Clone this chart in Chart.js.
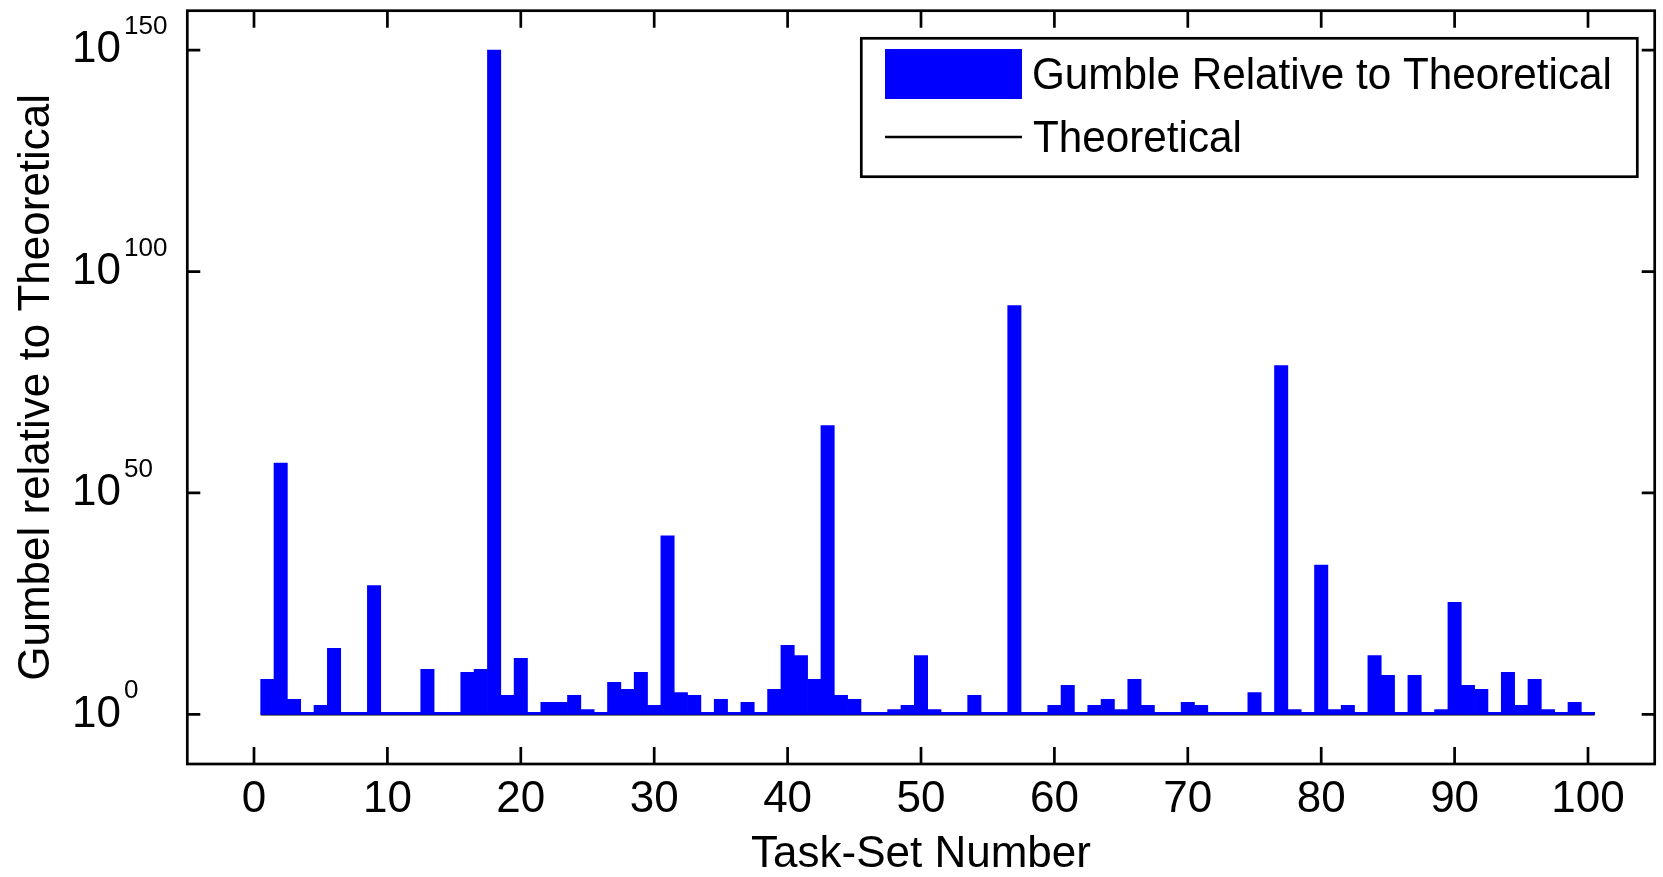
<!DOCTYPE html>
<html>
<head>
<meta charset="utf-8">
<title>Gumbel relative to Theoretical</title>
<script src="https://cdn.jsdelivr.net/npm/chart.js@4.4.1/dist/chart.umd.min.js"></script>
<style>
  html, body { margin: 0; padding: 0; background: #fff; }
  canvas { display: block; }
</style>
</head>
<body>
<canvas id="chart" width="1663" height="877"></canvas>
<script>
// Barras de Gumbel relativo al teórico, por número de task-set (eje log).
var taskNumbers = Array.from({ length: 100 }, function (_, i) { return i + 1; });
var gumbelRelative = [
  8e7, 6e56, 2500, 2.8, 110, 8e14, 2.8, 2.8, 1.3e29, 2.8,
  2.8, 2.8, 1.5e10, 2.8, 2.8, 3e9, 1.5e10, 1e150, 2e4, 4.5e12,
  2.8, 500, 500, 2e4, 13, 2.8, 1.7e7, 4.5e5, 3e9, 110,
  2e40, 9e4, 2e4, 2.8, 2500, 2.8, 500, 2.8, 4.5e5, 4e15,
  2e13, 8e7, 1.6e65, 2e4, 2500, 2.8, 2.8, 13, 110, 2e13,
  13, 2.8, 2.8, 2e4, 2.8, 2.8, 2e92, 2.8, 2.8, 110,
  3.5e6, 2.8, 110, 2500, 13, 8e7, 110, 2.8, 2.8, 500,
  110, 2.8, 2.8, 2.8, 9e4, 2.8, 6e78, 13, 2.8, 5e33,
  13, 110, 2.8, 2e13, 6.5e8, 2.8, 6.5e8, 2.8, 13, 2e25,
  3.5e6, 4.5e5, 2.8, 3e9, 110, 8e7, 13, 2.8, 500, 2.8
];
var barBase = 1;
var theoreticalX = [0.5, 100.5];
var theoreticalY = [1, 1];
var xTickValues = [0, 10, 20, 30, 40, 50, 60, 70, 80, 90, 100];
var yTickValues = [1e0, 1e50, 1e100, 1e150];
var yTickExponents = ['0', '50', '100', '150'];
var xMin = -5, xMax = 105;
var yMin = 6.3e-12, yMax = 8e158;

var FONT = "'Liberation Sans', Arial, sans-serif";
Chart.defaults.font.family = FONT;
Chart.defaults.color = '#000';

// marco estilo MATLAB: caja, ticks hacia adentro, etiquetas 10^n y leyenda
var marco = {
  id: 'marco',
  afterDraw: function (chart) {
    var ctx = chart.ctx, a = chart.chartArea, x = chart.scales.x, y = chart.scales.y;
    ctx.save();
    ctx.strokeStyle = '#000';
    ctx.lineWidth = 2.7;
    ctx.strokeRect(a.left, a.top, a.right - a.left, a.bottom - a.top);
    ctx.beginPath();
    xTickValues.forEach(function (v) {
      var px = x.getPixelForValue(v);
      ctx.moveTo(px, a.bottom); ctx.lineTo(px, a.bottom - 17);
      ctx.moveTo(px, a.top); ctx.lineTo(px, a.top + 17);
    });
    yTickValues.forEach(function (v) {
      var py = y.getPixelForValue(v);
      ctx.moveTo(a.left, py); ctx.lineTo(a.left + 13, py);
      ctx.moveTo(a.right, py); ctx.lineTo(a.right - 13, py);
    });
    ctx.stroke();

    // etiquetas del eje y
    ctx.fillStyle = '#000';
    yTickValues.forEach(function (v, i) {
      var py = y.getPixelForValue(v);
      ctx.font = '44px ' + FONT;
      ctx.textAlign = 'right'; ctx.textBaseline = 'middle';
      ctx.fillText('10', 121, py);
      ctx.font = '26px ' + FONT;
      ctx.textAlign = 'left'; ctx.textBaseline = 'alphabetic';
      ctx.fillText(yTickExponents[i], 124, py - 16);
    });

    // leyenda
    var ds = chart.data.datasets;
    ctx.fillStyle = '#fff';
    ctx.fillRect(861.3, 38.3, 776, 138.4);
    ctx.strokeRect(861.3, 38.3, 776, 138.4);
    ctx.fillStyle = ds[0].backgroundColor;
    ctx.fillRect(885, 49, 137, 50);
    ctx.beginPath();
    ctx.moveTo(885, 137); ctx.lineTo(1022, 137);
    ctx.stroke();
    ctx.fillStyle = '#000';
    ctx.font = '44px ' + FONT;
    ctx.textAlign = 'left'; ctx.textBaseline = 'middle';
    ctx.save();
    ctx.translate(1032, 0);
    ctx.scale(0.96, 1);
    ctx.fillText(ds[0].label, 0, 77);
    ctx.fillText(ds[1].label, 1, 140);
    ctx.restore();
    ctx.restore();
  }
};

new Chart(document.getElementById('chart'), {
  type: 'bar',
  data: {
    datasets: [{
      type: 'bar',
      label: 'Gumble Relative to Theoretical',
      data: taskNumbers.map(function (t, i) { return { x: t, y: [barBase, gumbelRelative[i]] }; }),
      backgroundColor: '#0000ff',
      borderWidth: 0,
      barPercentage: 1,
      categoryPercentage: 1,
      order: 0
    }, {
      type: 'line',
      label: 'Theoretical',
      data: theoreticalX.map(function (v, i) { return { x: v, y: theoreticalY[i] }; }),
      borderColor: '#000',
      borderWidth: 2,
      pointRadius: 0,
      fill: false,
      order: 1
    }]
  },
  options: {
    responsive: false,
    animation: false,
    devicePixelRatio: 1,
    layout: { padding: { top: 10.7, right: 8.3, left: 0, bottom: 0 } },
    plugins: { legend: { display: false }, tooltip: { enabled: false } },
    scales: {
      x: {
        type: 'linear', min: xMin, max: xMax, offset: false,
        grid: { display: false, drawTicks: false },
        border: { display: false },
        afterBuildTicks: function (s) { s.ticks = xTickValues.map(function (v) { return { value: v }; }); },
        ticks: { font: { size: 44 }, color: '#000', padding: 9, maxRotation: 0, autoSkip: false },
        title: { display: true, text: 'Task-Set Number', color: '#000', font: { size: 44, lineHeight: 1 }, padding: { top: 0, bottom: 0 } },
        afterFit: function (s) { s.height = 113; }
      },
      y: {
        type: 'logarithmic', min: yMin, max: yMax,
        grid: { display: false, drawTicks: false },
        border: { display: false },
        afterBuildTicks: function (s) { s.ticks = yTickValues.map(function (v) { return { value: v }; }); },
        ticks: { display: false },
        title: { display: true, text: 'Gumbel relative to Theoretical', color: '#000', font: { size: 44, lineHeight: 1 }, padding: { top: 15, bottom: 0 } },
        afterFit: function (s) { s.width = 187.3; }
      }
    }
  },
  plugins: [marco]
});
</script>
</body>
</html>
